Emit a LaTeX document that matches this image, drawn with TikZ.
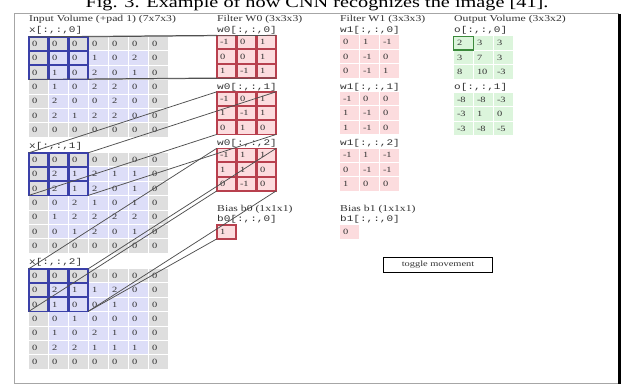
\documentclass[tikz,border=0pt]{standalone}
\usepackage{fontspec}
\setmainfont[FakeStretch=1.3]{Liberation Serif}
\newfontfamily\monof[FakeStretch=1.3]{Liberation Mono}
\definecolor{padgray}{HTML}{DEDEDE}
\definecolor{inblue}{HTML}{DDDEF8}
\definecolor{fpink}{HTML}{FCDCDE}
\definecolor{fred}{HTML}{B8404E}
\definecolor{ogreen}{HTML}{DCF5DC}
\definecolor{ogreenb}{HTML}{3C8A3C}
\definecolor{winblue}{HTML}{3A40A8}
\definecolor{linegray}{HTML}{505050}
\definecolor{txt}{HTML}{333333}
\newcommand\cellt[1]{\makebox[13pt][l]{#1}}
\begin{document}
\begin{tikzpicture}[x=1pt,y=-1pt,
  cell/.style={minimum width=19pt,minimum height=13.4pt,inner sep=0pt,
    font=\fontsize{8}{8}\selectfont,text=txt},
  fcell/.style={cell,fill=fpink},
  ocell/.style={cell,fill=ogreen},
  title/.style={font=\fontsize{9}{9}\selectfont,anchor=west,inner sep=0pt,text=txt},
  lab/.style={font=\monof\fontsize{8.5}{8.5}\selectfont,anchor=west,inner sep=0pt,text=txt},
  conn/.style={draw=linegray,line width=0.75pt},
  winb/.style={draw=winblue,line width=1.5pt},
  actf/.style={draw=fred,line width=1.5pt}]
\useasboundingbox (0,0) rectangle (628,385);
\fill[white] (0,0) rectangle (628,385);
% caption (clipped at top)
\node[font=\fontsize{15.6}{15.6}\selectfont,anchor=base,inner sep=0pt] (cap) at (317,8)
  {Fig. 3. Example of how CNN recognizes the image [41].};
% frame
\draw[gray!70,line width=1pt] (14,14) rectangle (618,383);
\draw[black,line width=3pt] (619.5,14) -- (619.5,383.5);
% titles
\node[title] (tin) at (29,19) {Input Volume (+pad 1) (7x7x3)};
\node[title] (tw0) at (217,19) {Filter W0 (3x3x3)};
\node[title] (tw1) at (340,19) {Filter W1 (3x3x3)};
\node[title] (tout) at (454,19) {Output Volume (3x3x2)};
% input volume
\foreach \blk [count=\bi from 0] in {
 {{0,0,0,0,0,0,0},{0,0,0,1,0,2,0},{0,1,0,2,0,1,0},{0,1,0,2,2,0,0},{0,2,0,0,2,0,0},{0,2,1,2,2,0,0},{0,0,0,0,0,0,0}},
 {{0,0,0,0,0,0,0},{0,2,1,2,1,1,0},{0,2,1,2,0,1,0},{0,0,2,1,0,1,0},{0,1,2,2,2,2,0},{0,0,1,2,0,1,0},{0,0,0,0,0,0,0}},
 {{0,0,0,0,0,0,0},{0,2,1,1,2,0,0},{0,1,0,0,1,0,0},{0,0,1,0,0,0,0},{0,1,0,2,1,0,0},{0,2,2,1,1,1,0},{0,0,0,0,0,0,0}}}
{
  \node[lab] (xl\bi) at (29,{30.5+116*\bi}) {x[:,:,\bi]};
  \foreach \row [count=\ri from 0] in \blk {
    \foreach \v [count=\ci from 0] in \row {
      \pgfmathtruncatemacro\pad{(\ri==0||\ri==6||\ci==0||\ci==6)?1:0}
      \ifnum\pad=1 \def\cfill{padgray}\else\def\cfill{inblue}\fi
      \node[cell,fill=\cfill] (x\bi-\ri-\ci) at ({38.5+20*\ci},{36.5+116*\bi+14.4*\ri+7.2}) {\cellt{\v}};
    }
  }
}
\foreach \bi in {0,1,2}{
  \foreach \ri in {0,1,2}{
    \foreach \ci in {0,1,2}{
      \draw[winb] (x\bi-\ri-\ci.north west) rectangle (x\bi-\ri-\ci.south east);
    }
  }
}
% filter W0
\foreach \blk [count=\bi from 0] in {
 {{-1,0,1},{0,0,1},{1,-1,1}},
 {{-1,0,1},{1,-1,1},{0,1,0}},
 {{-1,1,1},{1,1,0},{0,-1,0}}}
{
  \node[lab] (wal\bi) at (217,{30.5+56.5*\bi}) {w0[:,:,\bi]};
  \foreach \row [count=\ri from 0] in \blk {
    \foreach \v [count=\ci from 0] in \row {
      \node[fcell] (wa\bi-\ri-\ci) at ({226.5+20*\ci},{35+56.5*\bi+14.4*\ri+7.2}) {\cellt{\v}};
    }
  }
}
\foreach \bi in {0,1,2}{
  \foreach \ri in {0,1,2}{
    \foreach \ci in {0,1,2}{
      \draw[actf] (wa\bi-\ri-\ci.north west) rectangle (wa\bi-\ri-\ci.south east);
    }
  }
}
% filter W1
\foreach \blk [count=\bi from 0] in {
 {{0,1,-1},{0,-1,0},{0,-1,1}},
 {{-1,0,0},{1,-1,0},{1,-1,0}},
 {{-1,1,-1},{0,-1,-1},{1,0,0}}}
{
  \node[lab] (wbl\bi) at (340,{30.5+56.5*\bi}) {w1[:,:,\bi]};
  \foreach \row [count=\ri from 0] in \blk {
    \foreach \v [count=\ci from 0] in \row {
      \node[fcell] (wb\bi-\ri-\ci) at ({349.5+20*\ci},{35+56.5*\bi+14.4*\ri+7.2}) {\cellt{\v}};
    }
  }
}
% biases
\node[title] (tb0) at (217,209) {Bias b0 (1x1x1)};
\node[lab] (lb0) at (217,219.5) {b0[:,:,0]};
\node[fcell] (b0) at (226.5,232) {\cellt{1}};
\draw[actf] (b0.north west) rectangle (b0.south east);
\node[title] (tb1) at (340,209) {Bias b1 (1x1x1)};
\node[lab] (lb1) at (340,219.5) {b1[:,:,0]};
\node[fcell] (b1) at (349.5,232) {\cellt{0}};
% output volume
\foreach \blk [count=\bi from 0] in {
 {{2,3,3},{3,7,3},{8,10,-3}},
 {{-8,-8,-3},{-3,1,0},{-3,-8,-5}}}
{
  \node[lab] (ol\bi) at (454,{30.5+56.5*\bi}) {o[:,:,\bi]};
  \foreach \row [count=\ri from 0] in \blk {
    \foreach \v [count=\ci from 0] in \row {
      \node[ocell] (o\bi-\ri-\ci) at ({463.5+20*\ci},{36+56.5*\bi+14.4*\ri+7.2}) {\cellt{\v}};
    }
  }
}
\draw[draw=ogreenb,line width=1.2pt] (o0-0-0.north west) rectangle (o0-0-0.south east);
% button
\node[draw=black,line width=1.2pt,minimum width=109pt,minimum height=15pt,inner sep=0pt,
  font=\fontsize{8}{8}\selectfont,text=txt] (btn) at (438,265) {toggle movement};
% connectors
\foreach \bi in {0,1,2}{
  \draw[conn] (x\bi-0-0.north west) -- (wa\bi-0-0.north west);
  \draw[conn] (x\bi-0-2.north east) -- (wa\bi-0-2.north east);
  \draw[conn] (x\bi-2-0.south west) -- (wa\bi-2-0.south west);
  \draw[conn] (x\bi-2-2.south east) -- (wa\bi-2-2.south east);
}
\draw[conn] (x2-2-2.south east) -- (b0.south west);
\end{tikzpicture}
\end{document}
